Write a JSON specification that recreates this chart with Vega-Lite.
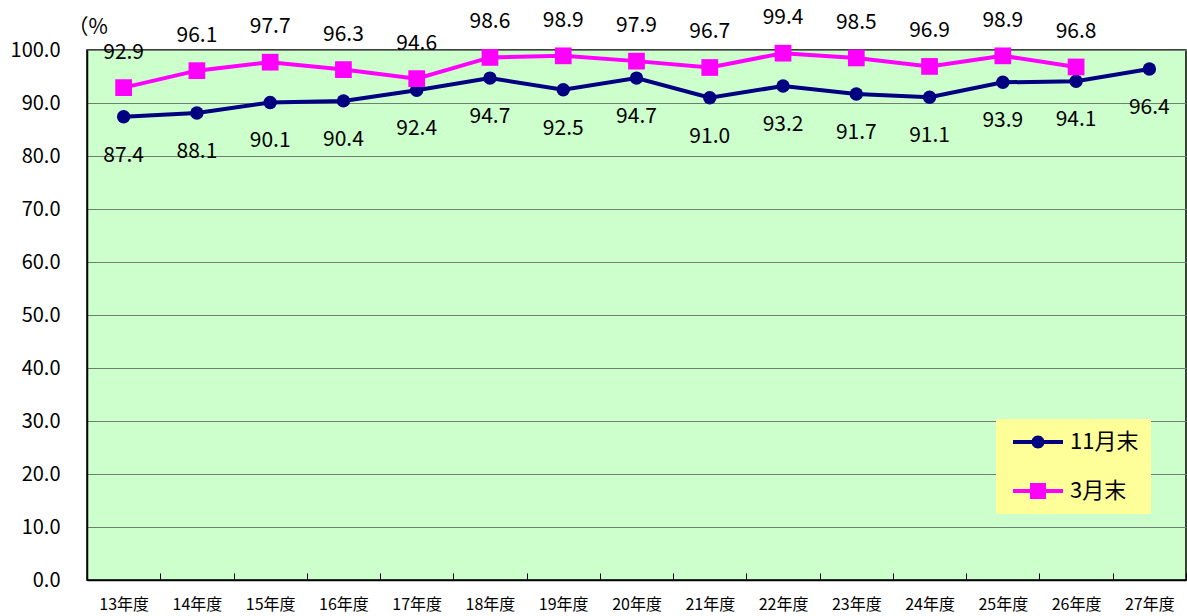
{
  "$schema": "https://vega.github.io/schema/vega-lite/v6.json",
  "width": 1099,
  "height": 530,
  "autosize": "none",
  "padding": {"left": 87, "top": 50, "right": 1, "bottom": 36},
  "background": "white",
  "config": {
    "view": {"fill": "#CCFFCC", "stroke": "#000000", "strokeWidth": 1.5},
    "font": "Noto Sans CJK JP"
  },
  "data": {
    "values": [
      {"year": "13年度", "series": "11月末", "value": 87.4},
      {"year": "14年度", "series": "11月末", "value": 88.1},
      {"year": "15年度", "series": "11月末", "value": 90.1},
      {"year": "16年度", "series": "11月末", "value": 90.4},
      {"year": "17年度", "series": "11月末", "value": 92.4},
      {"year": "18年度", "series": "11月末", "value": 94.7},
      {"year": "19年度", "series": "11月末", "value": 92.5},
      {"year": "20年度", "series": "11月末", "value": 94.7},
      {"year": "21年度", "series": "11月末", "value": 91.0},
      {"year": "22年度", "series": "11月末", "value": 93.2},
      {"year": "23年度", "series": "11月末", "value": 91.7},
      {"year": "24年度", "series": "11月末", "value": 91.1},
      {"year": "25年度", "series": "11月末", "value": 93.9},
      {"year": "26年度", "series": "11月末", "value": 94.1},
      {"year": "27年度", "series": "11月末", "value": 96.4},
      {"year": "13年度", "series": "3月末", "value": 92.9},
      {"year": "14年度", "series": "3月末", "value": 96.1},
      {"year": "15年度", "series": "3月末", "value": 97.7},
      {"year": "16年度", "series": "3月末", "value": 96.3},
      {"year": "17年度", "series": "3月末", "value": 94.6},
      {"year": "18年度", "series": "3月末", "value": 98.6},
      {"year": "19年度", "series": "3月末", "value": 98.9},
      {"year": "20年度", "series": "3月末", "value": 97.9},
      {"year": "21年度", "series": "3月末", "value": 96.7},
      {"year": "22年度", "series": "3月末", "value": 99.4},
      {"year": "23年度", "series": "3月末", "value": 98.5},
      {"year": "24年度", "series": "3月末", "value": 96.9},
      {"year": "25年度", "series": "3月末", "value": 98.9},
      {"year": "26年度", "series": "3月末", "value": 96.8}
    ]
  },
  "encoding": {
    "x": {
      "field": "year",
      "type": "ordinal",
      "sort": null,
      "scale": {"paddingInner": 0, "paddingOuter": 0},
      "axis": {
        "title": null,
        "labelAngle": 0,
        "labelFontSize": 16,
        "labelColor": "#000000",
        "labelPadding": 23,
        "tickBand": "extent",
        "tickSize": -7,
        "tickColor": "#000000",
        "domainColor": "#000000",
        "domainWidth": 1.5,
        "grid": false
      }
    },
    "y": {
      "field": "value",
      "type": "quantitative",
      "scale": {"domain": [0, 100], "nice": false},
      "axis": {
        "values": [0, 10, 20, 30, 40, 50, 60, 70, 80, 90, 100],
        "format": ".1f",
        "labelFontSize": 20,
        "labelColor": "#000000",
        "labelPadding": 27,
        "ticks": false,
        "grid": true,
        "gridColor": "#708070",
        "gridWidth": 1,
        "domainColor": "#000000",
        "domainWidth": 1.5,
        "title": "（%",
        "titleAngle": 0,
        "titleAlign": "left",
        "titleBaseline": "middle",
        "titleFontSize": 21,
        "titleFontWeight": "normal",
        "titleX": -20,
        "titleY": -23
      }
    }
  },
  "layer": [
    {
      "transform": [{"filter": "datum.series == '11月末'"}],
      "mark": {"type": "line", "strokeWidth": 4, "color": "#000080"}
    },
    {
      "transform": [{"filter": "datum.series == '3月末'"}],
      "mark": {"type": "line", "strokeWidth": 4, "color": "#FF00FF"}
    },
    {
      "transform": [{"filter": "datum.series == '11月末'"}],
      "mark": {"type": "point", "filled": true, "opacity": 1, "shape": "circle", "size": 180, "color": "#000080"}
    },
    {
      "transform": [{"filter": "datum.series == '3月末'"}],
      "mark": {"type": "point", "filled": true, "opacity": 1, "shape": "square", "size": 280, "color": "#FF00FF"}
    },
    {
      "mark": {"type": "point", "filled": true, "opacity": 0},
      "encoding": {
        "shape": {
          "field": "series",
          "type": "nominal",
          "scale": {"domain": ["11月末", "3月末"], "range": ["M-2.5,-0.2H2.5V0.2H-2.5Z M0.65,0A0.65,0.65 0 1,1 -0.65,0A0.65,0.65 0 1,1 0.65,0Z", "M-2.5,-0.2H2.5V0.2H-2.5Z M-0.8,-0.8H0.8V0.8H-0.8Z"]},
          "legend": {
            "title": null,
            "orient": "none",
            "legendX": 909,
            "legendY": 369,
            "fillColor": "#FFFF99",
            "padding": 12,
            "symbolSize": 400,
            "symbolOffset": 19,
            "labelOffset": 21,
            "rowPadding": 27,
            "labelFontSize": 22,
            "labelColor": "#000000",
            "symbolOpacity": 1,
            "symbolStrokeWidth": 0
          }
        },
        "color": {
          "field": "series",
          "type": "nominal",
          "scale": {"domain": ["11月末", "3月末"], "range": ["#000080", "#FF00FF"]},
          "legend": {
            "title": null,
            "orient": "none",
            "legendX": 909,
            "legendY": 369,
            "fillColor": "#FFFF99",
            "padding": 12,
            "symbolSize": 400,
            "symbolOffset": 19,
            "labelOffset": 21,
            "rowPadding": 27,
            "labelFontSize": 22,
            "labelColor": "#000000",
            "symbolOpacity": 1,
            "symbolStrokeWidth": 0
          }
        }
      }
    },
    {
      "transform": [{"filter": "datum.series == '3月末'"}],
      "mark": {"type": "text", "dy": -35, "fontSize": 21, "color": "#000000"},
      "encoding": {"text": {"field": "value", "type": "quantitative", "format": ".1f"}}
    },
    {
      "transform": [{"filter": "datum.series == '11月末'"}],
      "mark": {"type": "text", "dy": 39, "fontSize": 21, "color": "#000000"},
      "encoding": {"text": {"field": "value", "type": "quantitative", "format": ".1f"}}
    }
  ]
}
